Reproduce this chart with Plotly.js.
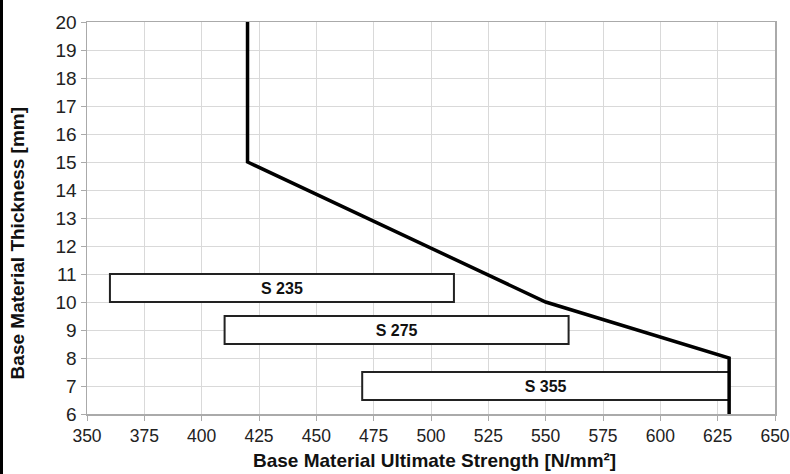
<!DOCTYPE html>
<html><head><meta charset="utf-8">
<script src="https://cdn.plot.ly/plotly-3.0.1.min.js"></script>
<style>
html,body{margin:0;padding:0;background:#fff;}
#wrap{position:relative;width:790px;height:474px;}
#chart{width:790px;height:474px;}
#edge{position:absolute;left:0;top:0;width:3px;height:474px;background:#000;z-index:10;}
</style></head>
<body><div id="wrap"><div id="chart"></div><div id="edge"></div></div>
<script>
// Limit curve
const curveStrength = [420, 420, 550, 630, 630];
const curveThickness = [20, 15, 10, 8, 6];

// Steel grade ranges
const grades = ['S 235', 'S 275', 'S 355'];
const strengthMin = [360, 410, 470];
const strengthMax = [510, 560, 630];
const thicknessLow = [10, 8.5, 6.5];
const thicknessHigh = [11, 9.5, 7.5];

const xTicks = [350,375,400,425,450,475,500,525,550,575,600,625,650];
const yTicks = [6,7,8,9,10,11,12,13,14,15,16,17,18,19,20];

const xTitle = 'Base Material Ultimate Strength [N/mm²]';
const yTitle = 'Base Material Thickness [mm]';

const FONT = 'Liberation Sans, Arial, sans-serif';

const bars = {
  type: 'bar', orientation: 'h',
  y: thicknessLow.map((v,i)=>(v+thicknessHigh[i])/2),
  x: strengthMax.map((v,i)=>v-strengthMin[i]),
  base: strengthMin,
  width: thicknessLow.map((v,i)=>thicknessHigh[i]-v),
  marker: {color: '#ffffff', line: {color: '#222', width: 2}},
  text: grades, textposition: 'inside', insidetextanchor: 'middle',
  textfont: {family: FONT, size: 16, color: '#111', weight: 'bold'},
  constraintext: 'none',
  hoverinfo: 'skip', showlegend: false
};
const line = {
  type: 'scatter', mode: 'lines', x: curveStrength, y: curveThickness,
  line: {color: '#000', width: 3.5}, showlegend: false, hoverinfo: 'skip', cliponaxis: false
};
const xTickFont = {family: FONT, size: 17.5, color: '#222'};
const yTickFont = {family: FONT, size: 19, color: '#222'};
const titleFont = {family: FONT, size: 19, color: '#111', weight: 'bold'};
const layout = {
  width: 790, height: 474,
  margin: {l: 87, r: 15, t: 22, b: 60},
  paper_bgcolor: '#fff', plot_bgcolor: '#fff',
  showlegend: false,
  xaxis: {
    range: [350, 650], tickvals: xTicks, ticktext: xTicks.map(String),
    showgrid: true, gridcolor: '#d9d9d9', gridwidth: 1,
    showline: true, linecolor: '#aaa', linewidth: 1.5, mirror: true,
    ticks: 'outside', ticklen: 5, tickcolor: '#aaa',
    tickfont: xTickFont, zeroline: false
  },
  yaxis: {
    range: [6, 20], tickvals: yTicks, ticktext: yTicks.map(String),
    showgrid: true, gridcolor: '#d9d9d9', gridwidth: 1,
    showline: true, linecolor: '#aaa', linewidth: 1.5, mirror: true,
    ticks: 'outside', ticklen: 5, tickcolor: '#aaa',
    tickfont: yTickFont, zeroline: false
  },
  annotations: [
    {text: xTitle, xref: 'paper', yref: 'paper', x: 0.5045, y: -0.151,
     xanchor: 'center', yanchor: 'bottom', showarrow: false, font: titleFont},
    {text: yTitle, xref: 'paper', yref: 'paper', x: -0.101, y: 0.434, textangle: -90,
     xanchor: 'center', yanchor: 'middle', showarrow: false, font: titleFont}
  ]
};
Plotly.newPlot('chart', [bars, line], layout, {displayModeBar: false, staticPlot: true});
</script></body></html>
